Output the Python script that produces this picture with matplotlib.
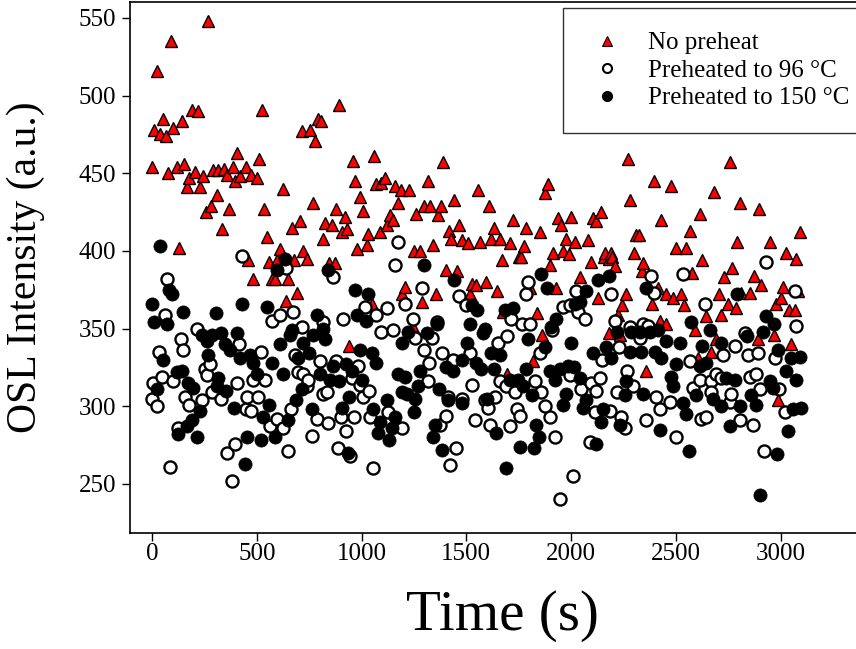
import matplotlib
matplotlib.use('Agg')
import matplotlib.pyplot as plt
from matplotlib.lines import Line2D

plt.rcParams['font.family'] = ['Liberation Serif', 'DejaVu Serif']

# (time s, OSL intensity a.u.)
no_preheat = [
    (0, 454), (10, 478), (25, 516), (38, 475), (51, 485), (67, 474), (76, 450), (89, 535),
    (102, 479), (118, 454), (127, 402), (142, 484), (154, 456), (165, 441), (178, 447),
    (189, 491), (205, 451), (218, 490), (229, 441), (245, 448), (256, 425), (268, 548),
    (281, 429), (289, 452), (308, 436), (316, 452), (332, 414), (343, 453), (356, 449),
    (369, 427), (385, 454), (396, 445), (407, 463), (420, 448), (448, 454), (459, 394),
    (471, 449), (483, 382), (499, 447), (509, 459), (523, 491), (534, 427), (547, 409),
    (559, 393), (571, 382), (587, 382), (595, 394), (610, 401), (626, 440), (639, 368),
    (650, 382), (666, 415), (677, 394), (690, 373), (706, 419), (714, 477), (722, 400),
    (740, 395), (753, 478), (766, 431), (777, 471), (793, 485), (806, 484), (817, 408),
    (825, 418), (844, 392), (857, 417), (873, 392), (880, 427), (893, 494), (905, 412),
    (920, 422), (931, 414), (941, 339), (957, 458), (969, 445), (979, 401), (992, 435),
    (1008, 426), (1024, 404), (1032, 411), (1048, 366), (1059, 461), (1071, 443),
    (1087, 412), (1095, 444), (1111, 447), (1119, 417), (1135, 423), (1150, 420),
    (1159, 442), (1174, 431), (1186, 439), (1191, 372), (1206, 377), (1227, 439),
    (1246, 351), (1249, 400), (1262, 424), (1278, 400), (1286, 367), (1297, 429),
    (1315, 445), (1326, 429), (1339, 404), (1354, 372), (1365, 423), (1378, 429),
    (1389, 457), (1405, 388), (1418, 413), (1429, 408), (1440, 433), (1456, 387),
    (1465, 417), (1477, 407), (1509, 405), (1517, 372), (1525, 379), (1545, 378),
    (1556, 439), (1567, 406), (1593, 380), (1607, 429), (1620, 408), (1632, 415),
    (1644, 374), (1659, 408), (1668, 394), (1675, 361), (1694, 321), (1710, 405),
    (1723, 420), (1752, 396), (1763, 396), (1774, 403), (1784, 415), (1806, 376),
    (1818, 329), (1837, 360), (1850, 412), (1863, 346), (1874, 437), (1890, 443),
    (1901, 391), (1914, 399), (1930, 376), (1937, 421), (1954, 417), (1962, 400),
    (1974, 408), (1990, 398), (2001, 422), (2017, 406), (2041, 383), (2081, 407),
    (2093, 393), (2104, 421), (2117, 419), (2128, 370), (2141, 425), (2155, 396),
    (2160, 399), (2181, 395), (2181, 347), (2192, 399), (2197, 396), (2208, 390),
    (2224, 359), (2235, 346), (2244, 365), (2260, 372), (2269, 459), (2283, 433),
    (2298, 399), (2308, 410), (2324, 410), (2338, 387), (2343, 392), (2359, 323),
    (2388, 366), (2395, 445), (2414, 376), (2423, 355), (2431, 420), (2451, 353),
    (2455, 372), (2475, 442), (2486, 370), (2499, 402), (2526, 372), (2537, 365),
    (2550, 402), (2566, 413), (2578, 386), (2589, 349), (2605, 331), (2613, 424),
    (2626, 394), (2642, 358), (2669, 335), (2680, 438), (2693, 343), (2706, 372),
    (2717, 359), (2728, 383), (2748, 366), (2756, 457), (2769, 389), (2785, 363),
    (2791, 406), (2804, 431), (2812, 373), (2852, 373), (2871, 384), (2891, 343),
    (2895, 427), (2907, 378), (2947, 406), (2966, 346), (2976, 366), (2987, 304),
    (3003, 370), (3011, 377), (3023, 399), (3039, 362), (3050, 340), (3066, 362),
    (3071, 395), (3082, 374), (3090, 412),
]

preheat_96 = [
    (0, 305), (6, 315), (22, 300), (35, 335), (46, 319), (62, 359), (73, 382), (86, 261),
    (102, 316), (125, 286), (138, 343), (149, 336), (157, 306), (178, 301), (213, 350),
    (237, 304), (253, 324), (261, 320), (277, 327), (285, 309), (327, 305), (356, 270),
    (380, 252), (396, 276), (404, 315), (416, 340), (428, 397), (448, 298), (454, 306),
    (472, 297), (483, 317), (507, 306), (519, 335), (539, 317), (563, 287), (571, 355),
    (595, 292), (610, 359), (626, 286), (639, 389), (650, 271), (661, 298), (674, 361),
    (682, 333), (695, 322), (714, 351), (722, 321), (738, 313), (745, 317), (762, 281),
    (785, 292), (801, 329), (814, 354), (814, 308), (833, 309), (841, 289), (865, 383),
    (880, 329), (889, 273), (901, 293), (912, 356), (928, 284), (945, 268), (952, 318),
    (965, 293), (984, 326), (992, 314), (1005, 306), (1016, 364), (1036, 310),
    (1040, 293), (1055, 260), (1068, 359), (1095, 348), (1119, 363), (1127, 296),
    (1148, 349), (1159, 391), (1172, 406), (1191, 286), (1206, 366), (1246, 356),
    (1254, 344), (1286, 376), (1297, 336), (1318, 316), (1322, 328), (1334, 344),
    (1361, 354), (1373, 288), (1386, 334), (1402, 294), (1413, 306), (1424, 262),
    (1437, 330), (1450, 273), (1465, 371), (1477, 305), (1497, 365), (1517, 334),
    (1525, 314), (1540, 291), (1588, 304), (1604, 299), (1612, 288), (1636, 306),
    (1651, 341), (1659, 316), (1691, 313), (1694, 345), (1707, 287), (1715, 356),
    (1731, 309), (1742, 298), (1755, 294), (1767, 353), (1784, 372), (1794, 380),
    (1806, 353), (1826, 316), (1850, 334), (1858, 309), (1874, 300), (1898, 293),
    (1911, 349), (1922, 280), (1946, 240), (1962, 364), (1993, 365), (1993, 320),
    (2009, 255), (2025, 374), (2033, 361), (2049, 311), (2065, 356), (2089, 277),
    (2097, 315), (2113, 296), (2120, 310), (2136, 318), (2149, 330), (2184, 297),
    (2189, 372), (2208, 355), (2219, 309), (2229, 338), (2240, 293), (2256, 286),
    (2267, 323), (2279, 351), (2295, 313), (2327, 344), (2343, 353), (2356, 291),
    (2367, 352), (2383, 384), (2394, 373), (2407, 306), (2423, 298), (2470, 303),
    (2499, 280), (2534, 385), (2565, 329), (2582, 312), (2613, 317), (2621, 292),
    (2637, 366), (2645, 293), (2669, 316), (2669, 309), (2689, 321), (2717, 318),
    (2724, 333), (2756, 303), (2764, 308), (2780, 339), (2804, 291), (2828, 347),
    (2844, 333), (2852, 319), (2868, 288), (2880, 321), (2891, 334), (2899, 311),
    (2920, 271), (2931, 393), (2971, 331), (2991, 311), (3019, 296), (3070, 374),
    (3071, 352),
]

preheat_150 = [
    (0, 366), (10, 354), (22, 311), (38, 403), (51, 330), (73, 353), (83, 375), (94, 372),
    (118, 322), (125, 282), (142, 323), (149, 361), (166, 287), (173, 315), (189, 291),
    (197, 312), (213, 280), (229, 297), (237, 346), (261, 342), (268, 333), (285, 346),
    (305, 360), (308, 313), (316, 318), (329, 347), (348, 340), (353, 310), (372, 336),
    (392, 299), (404, 347), (420, 331), (431, 366), (443, 263), (454, 280), (467, 333),
    (483, 328), (499, 321), (520, 278), (531, 293), (547, 364), (559, 301), (571, 328),
    (587, 280), (595, 388), (610, 340), (623, 321), (634, 395), (650, 291), (658, 346),
    (666, 349), (687, 304), (698, 331), (714, 311), (722, 341), (750, 334), (762, 298),
    (769, 346), (785, 359), (801, 321), (817, 350), (825, 343), (841, 388), (849, 317),
    (865, 326), (893, 316), (905, 299), (925, 327), (936, 270), (941, 306), (952, 323),
    (968, 375), (979, 359), (992, 336), (1000, 317), (1021, 355), (1032, 372),
    (1048, 334), (1055, 298), (1068, 328), (1079, 283), (1087, 290), (1119, 304),
    (1132, 278), (1143, 286), (1159, 293), (1172, 321), (1191, 309), (1191, 341),
    (1206, 319), (1215, 308), (1222, 348), (1249, 296), (1254, 305), (1270, 313),
    (1281, 323), (1297, 391), (1310, 347), (1341, 280), (1350, 288), (1361, 353),
    (1370, 311), (1386, 272), (1405, 325), (1413, 304), (1437, 323), (1440, 381),
    (1477, 302), (1481, 330), (1501, 341), (1516, 353), (1529, 365), (1545, 328),
    (1551, 362), (1572, 324), (1580, 347), (1588, 350), (1599, 305), (1620, 334),
    (1631, 324), (1640, 283), (1659, 333), (1683, 362), (1691, 260), (1707, 317),
    (1723, 363), (1747, 317), (1758, 274), (1771, 313), (1784, 324), (1794, 343),
    (1811, 307), (1822, 273), (1834, 288), (1847, 280), (1858, 385), (1874, 338),
    (1885, 376), (1898, 323), (1906, 351), (1922, 317), (1930, 356), (1946, 324),
    (1962, 301), (1977, 308), (1985, 326), (2001, 341), (2014, 325), (2017, 366),
    (2041, 367), (2041, 318), (2057, 299), (2073, 374), (2073, 304), (2104, 334),
    (2117, 276), (2128, 381), (2141, 290), (2152, 298), (2168, 338), (2179, 384),
    (2192, 331), (2219, 348), (2232, 288), (2256, 307), (2264, 316), (2279, 335),
    (2288, 348), (2327, 348), (2335, 335), (2343, 308), (2359, 376), (2375, 348),
    (2399, 335), (2414, 349), (2423, 285), (2431, 331), (2455, 342), (2478, 319),
    (2486, 313), (2502, 327), (2521, 341), (2534, 302), (2547, 295), (2562, 271),
    (2574, 354), (2594, 307), (2613, 326), (2626, 339), (2645, 328), (2661, 349),
    (2677, 305), (2717, 341), (2717, 300), (2740, 318), (2756, 287), (2780, 317),
    (2791, 372), (2804, 300), (2839, 345), (2860, 307), (2884, 301), (2903, 243),
    (2915, 348), (2928, 358), (2947, 316), (2963, 312), (2966, 353), (2982, 269),
    (2987, 336), (3026, 323), (3034, 284), (3050, 331), (3058, 298), (3071, 317),
    (3090, 332), (3098, 299),
]

series_labels = ["No preheat", "Preheated to 96 \u00b0C", "Preheated to 150 \u00b0C"]
x_ticks = [0, 500, 1000, 1500, 2000, 2500, 3000]
y_ticks = [250, 300, 350, 400, 450, 500, 550]

fig = plt.figure(figsize=(8.56, 6.49), dpi=100)
ax = fig.add_axes([130 / 856, 116 / 649, 745 / 856, 531 / 649])

t, v = zip(*no_preheat)
ax.plot(t, v, linestyle='none', marker='^', markersize=9, markerfacecolor='red',
        markeredgecolor='black', markeredgewidth=1.0, zorder=2)
t, v = zip(*preheat_96)
ax.plot(t, v, linestyle='none', marker='o', markersize=8.7, markerfacecolor='white',
        markeredgecolor='black', markeredgewidth=1.7, zorder=3)
t, v = zip(*preheat_150)
ax.plot(t, v, linestyle='none', marker='o', markersize=9.5, markerfacecolor='black',
        markeredgecolor='black', markeredgewidth=0.5, zorder=4)

ax.set_xlim(-105, 3450)
ax.set_ylim(218.4, 560.3)
ax.set_xticks(x_ticks)
ax.set_yticks(y_ticks)
ax.tick_params(direction='out', length=6, width=1, labelsize=18)
ax.tick_params(axis='x', pad=1)
ax.tick_params(axis='y', pad=4)
for s in ax.spines.values():
    s.set_linewidth(1.2)

ax.set_xlabel("Time (s)", fontsize=41, labelpad=18)
ax.set_ylabel("OSL Intensity (a.u.)", fontsize=30, labelpad=24)

handles = [
    Line2D([], [], linestyle='none', marker='^', markersize=7, markerfacecolor='red',
           markeredgecolor='black', markeredgewidth=0.8),
    Line2D([], [], linestyle='none', marker='o', markersize=6.5, markerfacecolor='white',
           markeredgecolor='black', markeredgewidth=1.5),
    Line2D([], [], linestyle='none', marker='o', markersize=7, markerfacecolor='black',
           markeredgecolor='black'),
]
leg = fig.legend(handles, series_labels, loc='upper left',
                 bbox_to_anchor=(563 / 856, 1 - 8 / 649), fontsize=18,
                 frameon=True, fancybox=False, borderpad=0.95, handlelength=1.62,
                 handletextpad=0.83, labelspacing=0.2, borderaxespad=0)
leg.get_frame().set_edgecolor('black')
leg.get_frame().set_linewidth(1.0)

fig.savefig('out.png', dpi=100)
